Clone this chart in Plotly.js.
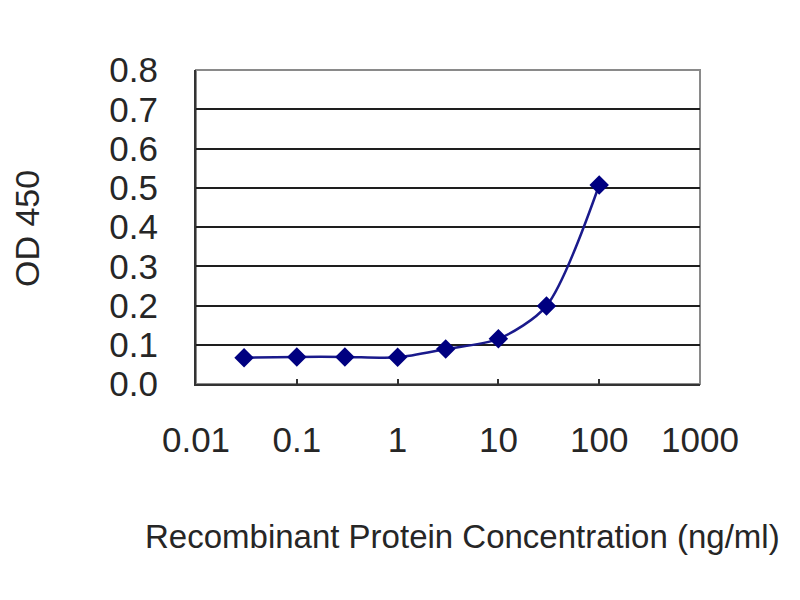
<!DOCTYPE html>
<html>
<head>
<meta charset="utf-8">
<script src="https://cdn.plot.ly/plotly-3.0.1.min.js"></script>
<style>html,body{margin:0;padding:0;background:#fff;}#chart{width:800px;height:600px;}</style>
</head>
<body>
<div id="chart"></div>
<script>
var concentrations = [0.03, 0.1, 0.3, 1, 3, 10, 30, 100];
var od450 = [0.067, 0.069, 0.069, 0.068, 0.089, 0.115, 0.199, 0.507];
var xTickVals = [0.01, 0.1, 1, 10, 100, 1000];
var xTickText = ["0.01", "0.1", "1", "10", "100", "1000"];
var yTickVals = [0, 0.1, 0.2, 0.3, 0.4, 0.5, 0.6, 0.7, 0.8];
var yTickText = ["0.0", "0.1", "0.2", "0.3", "0.4", "0.5", "0.6", "0.7", "0.8"];
var xTitle = "Recombinant Protein Concentration (ng/ml)";
var yTitle = "OD 450";

var font = "Liberation Sans, Arial, sans-serif";
var trace = {
  x: concentrations,
  y: od450,
  type: "scatter",
  mode: "lines+markers",
  line: {color: "#1a1a8c", width: 2.5, shape: "spline", smoothing: 0.8},
  marker: {symbol: "diamond", size: 15, color: "#000080"},
  hoverinfo: "x+y"
};
var layout = {
  width: 800, height: 600,
  margin: {l: 196, r: 100, t: 70, b: 216, pad: 0},
  paper_bgcolor: "#ffffff",
  plot_bgcolor: "#ffffff",
  showlegend: false,
  font: {family: font, color: "#262626", size: 35},
  xaxis: {
    type: "log",
    range: [-2, 3],
    tickvals: xTickVals,
    ticktext: xTickText,
    ticks: "inside",
    ticklen: 5,
    tickwidth: 2,
    tickcolor: "#333",
    showgrid: false,
    zeroline: false,
    showline: true,
    linecolor: "#333",
    linewidth: 2,
    ticklabelstandoff: 24,
    tickfont: {size: 35, family: font, color: "#262626"}
  },
  yaxis: {
    range: [0, 0.8],
    tickvals: yTickVals,
    ticktext: yTickText,
    ticks: "",
    showgrid: true,
    gridcolor: "#1e1e1e",
    gridwidth: 2,
    zeroline: false,
    showline: true,
    linecolor: "#333",
    linewidth: 2,
    ticklabelstandoff: 29,
    tickfont: {size: 35, family: font, color: "#262626"}
  },
  shapes: [
    {type: "rect", xref: "paper", yref: "paper", x0: 0, x1: 1, y0: 0, y1: 1,
     line: {color: "#8a8a8a", width: 2}, fillcolor: "rgba(0,0,0,0)", layer: "below"}
  ],
  annotations: [
    {text: xTitle, xref: "paper", yref: "paper", x: 0.528, y: -0.487,
     xanchor: "center", yanchor: "middle", showarrow: false,
     font: {size: 33, family: font, color: "#262626"}},
    {text: yTitle, xref: "paper", yref: "paper", x: -0.335, y: 0.494,
     xanchor: "center", yanchor: "middle", showarrow: false, textangle: -90,
     font: {size: 34, family: font, color: "#262626"}}
  ]
};
Plotly.newPlot("chart", [trace], layout, {displayModeBar: false, staticPlot: true});
</script>
</body>
</html>
